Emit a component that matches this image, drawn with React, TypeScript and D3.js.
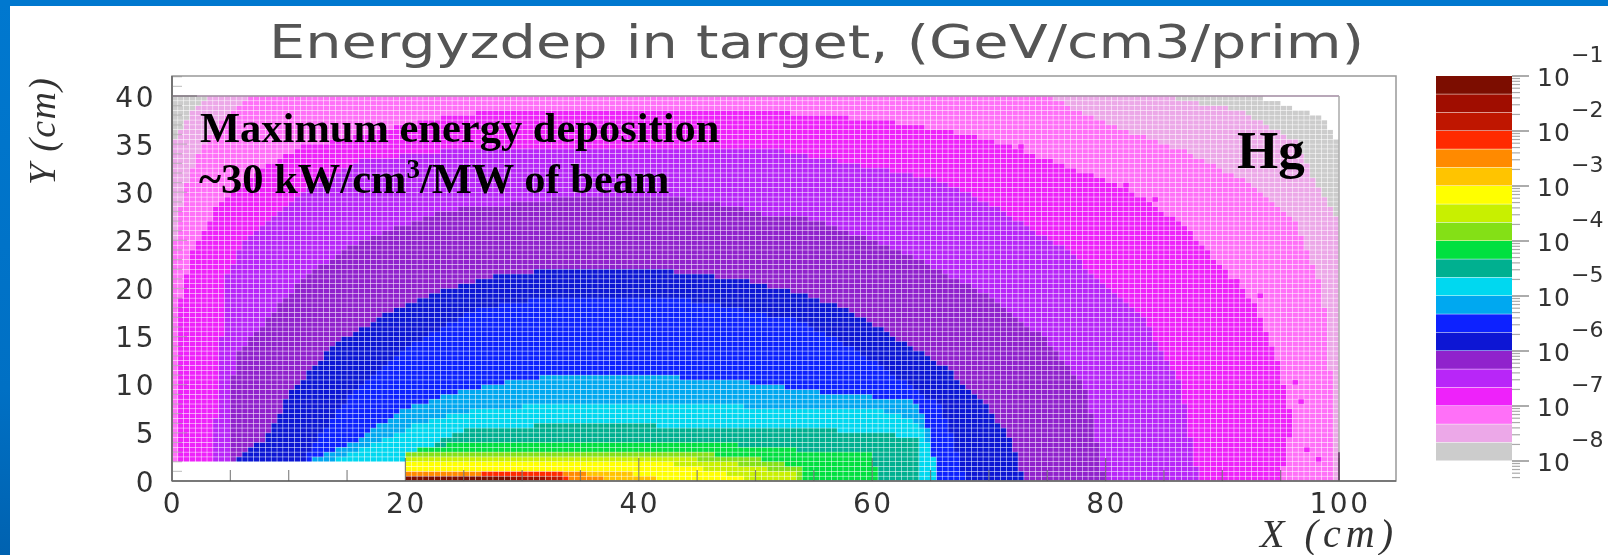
import React from "react";
import * as d3 from "d3";

type Pt = [number, number];

const titleText = "Energyzdep in target, (GeV/cm3/prim)";
const xTickLabels = [0, 20, 40, 60, 80, 100];
const yTickLabels = [0, 5, 10, 15, 20, 25, 30, 35, 40];
const decades = [-1, -2, -3, -4, -5, -6, -7, -8];

// colour bands of the palette, top (10^-1) to bottom (10^-8)
const bandColors = [
  "#7c0c06", "#a00f06", "#bf1404", "#ff2a00", "#ff8a00", "#ffc400", "#ffff00",
  "#c8f000", "#84e018", "#00e040", "#00b090", "#00d8f0", "#00a8f0", "#0a20ff",
  "#0a16d4", "#9020cc", "#b828f8", "#ee20fa", "#ff70f8", "#eca8e8", "#cccccc",
];

// outer boundary of each energy-deposition level, cm
const cGray: Pt[] = [[0,0],[0,40],[93,40],[96.9,38.5],[98.9,37.5],[100,34.7],[100,0]];
const cPale: Pt[] = [[0,0],[0,35],[1.5,38],[3.5,40],[84.8,40],[91.4,38.5],[96.3,35.4],[98.3,30.2],[100,26.8],[100,0]];
const cPink: Pt[] = [[0,0],[0,23],[1,30],[2.5,34.5],[4.5,38],[7,40],[75,40],[79.9,37.2],[86.5,34.4],[92.4,30.9],[96.3,26.8],[98.6,19.8],[99.2,12.9],[99.7,0]];
const cMagenta: Pt[] = [[0.5,0],[0.5,15],[0.8,19.8],[1.8,24],[4,28.8],[7,32],[11,34.7],[14.3,35.4],[23.8,38],[28.7,38.5],[50.4,38.5],[57,37.85],[60.9,37.5],[68.4,36],[72.7,34.4],[77.6,32.3],[81.5,30.6],[86.5,26.8],[89.7,22.6],[92.7,18.5],[94.7,12.9],[96,6],[95,0]];
const cViolet: Pt[] = [[3.4,0],[4.1,12.9],[4.7,21.2],[6.4,25.4],[11.3,30.2],[16.2,33.3],[26,34.7],[50.4,34.7],[65.5,31.3],[70,28.8],[76.6,24],[83.2,17],[86.4,10],[88,0]];
const cPurple: Pt[] = [[4.7,0],[5.1,9.5],[5.4,12.9],[11.3,21.2],[16.2,25],[23.8,28.2],[29.3,28.8],[34.2,29.5],[45.7,29.2],[50.4,27.8],[55.3,27.1],[63.5,23.3],[70,19.2],[75,14.6],[78.3,9.4],[79.9,0]];
const cDarkBlue: Pt[] = [[5.4,0],[5.4,2.5],[8,4.3],[10.3,9.5],[14.3,14.6],[19.5,18.1],[24.1,20.2],[27.7,21.4],[32.6,21.9],[40.8,22.1],[49,20.9],[53.7,19.5],[57.9,17.8],[61.9,15],[66.1,12],[69.4,8.4],[72,4.2],[73,0]];
const cBlue: Pt[] = [[11,0],[11.3,2.5],[15.6,9.5],[20.8,14.3],[26,17.8],[32.6,19.2],[42.5,19.2],[53.7,16.7],[58.6,13.6],[66,7.7],[68,0]];
const cSky: Pt[] = [[12,0],[12,2.4],[16.2,4.3],[19.5,7.4],[24.1,9.1],[27.7,10.1],[33.9,11.2],[43.1,11.2],[43.4,10.7],[48,10.5],[55,9.3],[58.6,8.8],[63.2,8.6],[64.5,6.7],[65.1,4.3],[65.5,0]];
const cCyan: Pt[] = [[13.5,0],[13.5,2],[18.2,4.3],[21,6],[26,7.4],[32,7.9],[45,7.9],[55,7.5],[62,7.2],[64,6],[65.2,3],[65.5,0]];
const cTeal: Pt[] = [[20,0],[20,2.5],[21.2,3],[23.5,4.5],[25.7,5.5],[33.8,5.9],[38.3,6],[45,5.5],[54.8,5.5],[60,4.9],[64,4.6],[64.2,0]];
const cGreen: Pt[] = [[20,0],[20,3],[23,3.6],[25,4],[40,4],[50,3.7],[54,3.2],[60,2.9],[60.5,0]];
const cLime: Pt[] = [[20,0],[20,3],[44,3],[50,2.4],[54,1.3],[54.3,0]];
const cYGreen: Pt[] = [[20,0],[20,2.5],[40,2.5],[45.7,2.2],[50,1.5],[53.5,0.7],[53.5,0]];
const cYellow: Pt[] = [[20,0],[20,2],[42,2],[44,1.5],[47,1],[50,0]];
const cAmber: Pt[] = [[20,0],[20,1],[38,1],[41,0.5],[42,0]];
const cOrange: Pt[] = [[20,0],[20,1],[25,1],[35,1],[36,0.5],[38,0]];
const cRed: Pt[] = [[20,0],[20,0.5],[26,0.5],[27,1],[33,1],[34,0.5],[34,0]];
const cRed2: Pt[] = [[20,0],[20,0.5],[33.5,0.5],[33.5,0]];
const cRed3: Pt[] = [[20,0],[20,0.5],[32,0.5],[32,0]];
const cRed4: Pt[] = [[20,0],[20,0.5],[29,0.5],[29,0]];

// isolated magenta bins beyond the ragged outer edge
const strayMagenta: Pt[] = [[72.75,34.75],[81.75,30.75],[84.25,29.25],[91.25,20.75],[93.25,19.25],[96.25,10.25],[96.75,8.25],[97.25,3.25],[98.25,2.25]];

// innermost first, same order as bandColors
const contours: Pt[][] = [
  cRed4, cRed3, cRed2, cRed, cOrange, cAmber, cYellow, cYGreen, cLime, cGreen, cTeal,
  cCyan, cSky, cBlue, cDarkBlue, cPurple, cViolet, cMagenta, cPink, cPale, cGray,
];

const binSize = 0.5;
const x = d3.scaleLinear().domain([0, 100]).range([172, 1339]);
const y = d3.scaleLinear().domain([0, 40]).range([481, 96]);
const z = d3.scaleLog().domain([1e-8, 1e-1]).range([461, 76]);

const cells: { cx: number; cy: number; color: string }[] = [];
for (const cx of d3.range(binSize / 2, 100, binSize)) {
  for (const cy of d3.range(binSize / 2, 40, binSize)) {
    if (cx < 20 && cy < 2) continue;
    const i = contours.findIndex((c) => d3.polygonContains(c, [cx, cy]));
    if (i >= 0) cells.push({ cx, cy, color: bandColors[i] });
  }
}
for (const [cx, cy] of strayMagenta) cells.push({ cx, cy, color: bandColors[17] });

const axisGray = "#777";
const labelFont = "'DejaVu Sans', sans-serif";

export default function App() {
  const bw = x(binSize) - x(0);
  const bh = y(0) - y(binSize);
  const gap = 0.5;
  const minorLog = [2, 3, 4, 5, 6, 7, 8, 9];
  const zMinor: number[] = [];
  for (const d of d3.range(-9, -1)) for (const m of minorLog) {
    const v = m * Math.pow(10, d);
    if (v >= 5e-9 && v < 1e-1) zMinor.push(v);
  }
  return (
    <svg
      width={1608}
      height={555}
      viewBox="0 0 1608 555"
      style={{ position: "absolute", left: 0, top: 0, display: "block", background: "#fff" }}
    >
      <defs>
        <filter id="soft" x="-2%" y="-2%" width="104%" height="104%">
          <feGaussianBlur stdDeviation="0.65" />
        </filter>
        <filter id="softText" x="-2%" y="-2%" width="104%" height="104%">
          <feGaussianBlur stdDeviation="0.7" />
        </filter>
        <filter id="soft2" x="-2%" y="-2%" width="104%" height="104%">
          <feGaussianBlur stdDeviation="0.35" />
        </filter>
        <linearGradient id="side" x1="0" y1="0" x2="0" y2="1">
          <stop offset="0" stopColor="#0078cf" />
          <stop offset="0.7" stopColor="#0070c4" />
          <stop offset="1" stopColor="#0062b0" />
        </linearGradient>
      </defs>
      <rect x={0} y={0} width={10} height={555} fill="url(#side)" />
      <rect x={0} y={0} width={1608} height={6} fill="#0078cf" />

      <g filter="url(#soft)">
        {cells.map((c, i) => (
          <rect
            key={i}
            x={x(c.cx - binSize / 2) + gap / 2}
            y={y(c.cy + binSize / 2) + gap / 2}
            width={bw - gap}
            height={bh - gap}
            fill={c.color}
          />
        ))}
      </g>

      <g filter="url(#softText)">
        {/* frames */}
        <line x1={x(0)} x2={x(100)} y1={y(40)} y2={y(40)} stroke="#a08aa0" strokeWidth={1.5} />
        <line x1={x(100)} x2={x(100)} y1={y(40)} y2={y(0)} stroke="#aaa" strokeWidth={1.5} />
        <line x1={x(100)} x2={x(100)} y1={y(3)} y2={y(0)} stroke="#603060" strokeWidth={1.5} />
        <rect x={172} y={76} width={1224} height={405} fill="none" stroke="#999" strokeWidth={1.5} />
        <line x1={172} x2={172} y1={76} y2={481} stroke="#666" strokeWidth={1.6} />
        <line x1={172} x2={1396} y1={481} y2={481} stroke="#666" strokeWidth={1.6} />

        {/* inward ticks */}
        {d3.range(0, 43).map((v) => {
          const major = v % 5 === 0;
          const len = v === 40 ? 25 : major ? 15 : 10;
          return (
            <line key={v} x1={172} x2={172 + len} y1={y(v)} y2={y(v)} stroke={axisGray}
              strokeOpacity={v === 40 ? 0.9 : 0.4} strokeWidth={1.2} />
          );
        })}
        {d3.range(5, 105, 5).map((v) => (
          <line key={v} x1={x(v)} x2={x(v)} y1={481} y2={v % 20 === 0 ? 458 : 470} stroke="#555"
            strokeOpacity={0.7} strokeWidth={1.2} />
        ))}

        {/* colour bar */}
        {bandColors.map((c, i) => {
          const top = z(Math.pow(10, -1 - i / 3));
          const bottom = z(Math.pow(10, -1 - (i + 1) / 3));
          return <rect key={c} x={1436} width={76} y={top} height={bottom - top - 0.5} fill={c} />;
        })}
        {decades.map((d) => (
          <line key={d} x1={1512} x2={1529} y1={z(Math.pow(10, d))} y2={z(Math.pow(10, d))}
            stroke="#888" strokeWidth={1.4} />
        ))}
        {zMinor.map((v) => (
          <line key={v} x1={1512} x2={1520} y1={z(v)} y2={z(v)} stroke="#aaa" strokeWidth={1.2} />
        ))}
      </g>

      <g filter="url(#softText)" fontFamily={labelFont} fill="#333">
        <text x={269} y={58} fontSize={46} fill="#555" textLength={1095} lengthAdjust="spacingAndGlyphs">
          {titleText}
        </text>
        {yTickLabels.map((v) => (
          <text key={v} x={156} y={y(v) + 10.5} fontSize={28} textAnchor="end" letterSpacing={2.5}>
            {v}
          </text>
        ))}
        {xTickLabels.map((v) => (
          <text key={v} x={x(v) + 1} y={513} fontSize={28} textAnchor="middle" letterSpacing={2.5}>
            {v}
          </text>
        ))}
        {decades.map((d) => (
          <g key={d}>
            <text x={1537} y={z(Math.pow(10, d)) + 10} fontSize={25} letterSpacing={1}>
              10
            </text>
            <text x={1571} y={z(Math.pow(10, d)) - 14} fontSize={22} letterSpacing={0}>
              {"\u2212" + Math.abs(d)}
            </text>
          </g>
        ))}
        <text
          transform="translate(55,185) rotate(-90)"
          fontFamily="'Liberation Serif', serif"
          fontStyle="italic"
          fontSize={38}
          textLength={107}
          lengthAdjust="spacing"
        >
          Y (cm)
        </text>
        <text
          x={1260}
          y={547}
          fontFamily="'Liberation Serif', serif"
          fontStyle="italic"
          fontSize={40}
          textLength={133}
          lengthAdjust="spacing"
        >
          X (cm)
        </text>
      </g>

      <g filter="url(#soft2)" fontFamily="'Liberation Serif', serif" fontWeight="bold" fill="#000">
        <text x={200} y={142} fontSize={42.5}>Maximum energy deposition</text>
        <text x={199} y={193} fontSize={42.5}>
          ~30 kW/cm<tspan dy={-15} fontSize={27}>3</tspan>
          <tspan dy={15}>/MW of beam</tspan>
        </text>
        <text x={1237} y={168} fontSize={53}>Hg</text>
      </g>
    </svg>
  );
}
